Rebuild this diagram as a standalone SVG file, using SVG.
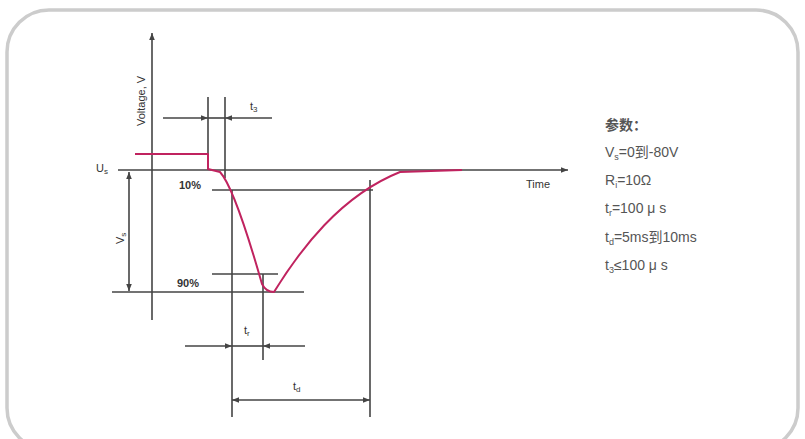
<svg xmlns="http://www.w3.org/2000/svg" width="805" height="439" viewBox="0 0 805 439">
<defs>
<marker id="ah" viewBox="0 0 10 10" refX="10" refY="5" markerWidth="7" markerHeight="7" orient="auto-start-reverse" markerUnits="userSpaceOnUse">
<path d="M0,1 L10,5 L0,9 Z" fill="#444"/>
</marker>
<style>
.ln{stroke:#444;stroke-width:1.6;fill:none}
.pulse{stroke:#c0235f;stroke-width:2;fill:none;stroke-linejoin:round}
.lbl{font-family:"Liberation Sans",Arial,sans-serif;font-size:11px;fill:#333}
.par{font-family:"Liberation Sans","Noto Sans CJK SC",sans-serif;font-size:14px;fill:#555}
</style>
</defs>
<rect x="7" y="10" width="791" height="440" rx="42" fill="#fff" stroke="#ccc" stroke-width="3.5"/>
<g id="axes">
<line class="ln" x1="152" y1="320" x2="152" y2="33" marker-end="url(#ah)"/>
<line class="ln" x1="118" y1="170" x2="568" y2="170" marker-end="url(#ah)"/>
<text class="lbl" font-size="12.5" transform="translate(145,126) rotate(-90)">Voltage, V</text>
<text class="lbl" font-size="12.5" x="526" y="188">Time</text>
<text class="lbl" font-size="12" x="96" y="172">U<tspan font-size="8" dy="2">s</tspan></text>
</g>
<g id="connectors">
<line class="ln" x1="208" y1="97" x2="208" y2="170"/>
<line class="ln" x1="225" y1="97" x2="225" y2="178"/>
<line class="ln" x1="163" y1="118" x2="208" y2="118" marker-end="url(#ah)"/>
<line class="ln" x1="272" y1="118" x2="225" y2="118" marker-end="url(#ah)"/>
<line class="ln" x1="208" y1="118" x2="225" y2="118"/>
<line class="ln" x1="212" y1="190" x2="373" y2="190"/>
<line class="ln" x1="212" y1="274" x2="278" y2="274"/>
<line class="ln" x1="112" y1="292" x2="304" y2="292"/>
<line class="ln" x1="129" y1="232" x2="129" y2="172" marker-end="url(#ah)"/>
<line class="ln" x1="129" y1="232" x2="129" y2="291" marker-end="url(#ah)"/>
<line class="ln" x1="232" y1="190" x2="232" y2="417"/>
<line class="ln" x1="263" y1="274" x2="263" y2="360"/>
<line class="ln" x1="370" y1="180" x2="370" y2="417"/>
<line class="ln" x1="185" y1="346" x2="232" y2="346" marker-end="url(#ah)"/>
<line class="ln" x1="305" y1="346" x2="263" y2="346" marker-end="url(#ah)"/>
<line class="ln" x1="232" y1="346" x2="263" y2="346"/>
<line class="ln" x1="300" y1="400" x2="232" y2="400" marker-end="url(#ah)"/>
<line class="ln" x1="300" y1="400" x2="370" y2="400" marker-end="url(#ah)"/>
</g>
<g id="pulse">
<path class="pulse" d="M135,154 L208,154 L208,169 L220,172 C232,185 248,235 262,284 Q266,292 274,292 C300,250 340,196 400,172 L462,170"/>
</g>
<g id="labels">
<text class="lbl" font-size="12" x="250" y="110">t<tspan font-size="8" dy="2">3</tspan></text>
<text class="lbl" font-weight="bold" x="179" y="189">10%</text>
<text class="lbl" font-weight="bold" x="177" y="287">90%</text>
<text class="lbl" font-size="12" transform="translate(124,244) rotate(-90)">V<tspan font-size="8" dy="2">s</tspan></text>
<text class="lbl" font-size="12" x="244" y="334">t<tspan font-size="8" dy="2">r</tspan></text>
<text class="lbl" font-size="12" x="293" y="390">t<tspan font-size="8" dy="2">d</tspan></text>
</g>
<g id="params">
<text class="par" x="605" y="130" font-weight="bold">参数：</text>
<text class="par" x="605" y="157">V<tspan font-size="9" dy="3">s</tspan><tspan dy="-3">=0到-80V</tspan></text>
<text class="par" x="605" y="185">R<tspan font-size="9" dy="3">i</tspan><tspan dy="-3">=10Ω</tspan></text>
<text class="par" x="605" y="213">t<tspan font-size="9" dy="3">r</tspan><tspan dy="-3">=100 μ s</tspan></text>
<text class="par" x="605" y="242">t<tspan font-size="9" dy="3">d</tspan><tspan dy="-3">=5ms到10ms</tspan></text>
<text class="par" x="605" y="270">t<tspan font-size="9" dy="3">3</tspan><tspan dy="-3">≤100 μ s</tspan></text>
</g>
</svg>
